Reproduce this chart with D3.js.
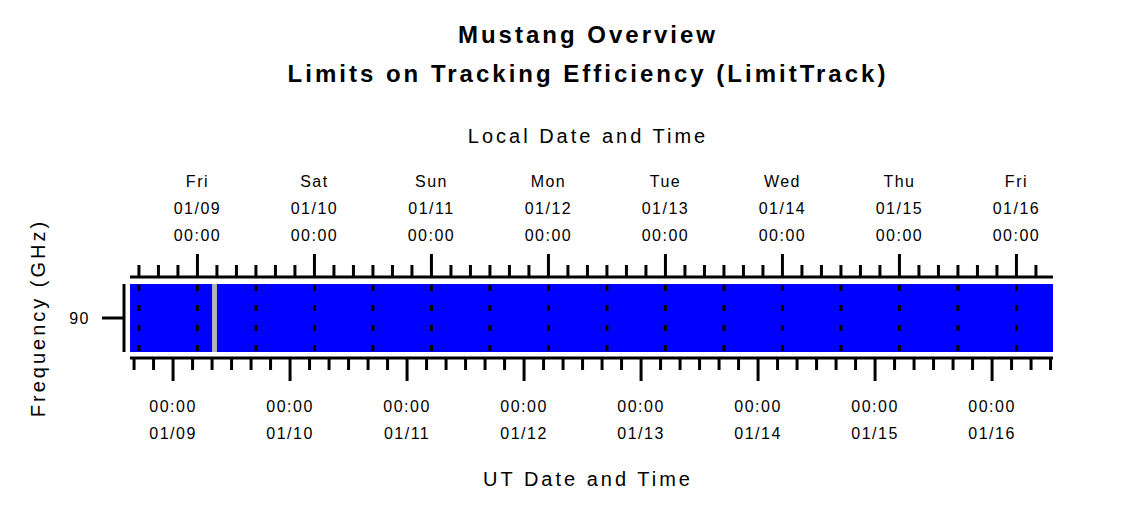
<!DOCTYPE html>
<html><head><meta charset="utf-8">
<script src="https://cdn.jsdelivr.net/npm/d3@7"></script>
<style>body{margin:0;background:#fff}text{font-family:"Liberation Sans",Arial,sans-serif;fill:#000}</style>
</head><body><div id="chart"></div>
<script>
const startUT = "2026-01-08T15:10:00Z"
const endUT = "2026-01-16T12:30:00Z"
const frequencies = [90]
const grayGaps = [["2026-01-09T08:00:00Z", "2026-01-09T09:00:00Z"]]
const localOffsetHours = -5
const weekdays = ["Fri","Sat","Sun","Mon","Tue","Wed","Thu","Fri"]

const width = 1125, height = 506
const svg = d3.select("#chart").append("svg").attr("width", width).attr("height", height)

const x = d3.scaleUtc().domain([new Date(startUT), new Date(endUT)]).range([130, 1053])
const y = d3.scaleBand().domain(frequencies).range([284, 352])
const H = 3600e3
const toLocal = d => new Date(d.getTime() + localOffsetHours*H)
const fromLocal = d => new Date(d.getTime() - localOffsetHours*H)

// title
svg.append("text").attr("x", 588).attr("y", 43).attr("text-anchor","middle")
    .attr("font-size", 24).attr("font-weight","bold").attr("letter-spacing", 3).text("Mustang Overview")
svg.append("text").attr("x", 588).attr("y", 82).attr("text-anchor","middle")
    .attr("font-size", 24).attr("font-weight","bold").attr("letter-spacing", 3).text("Limits on Tracking Efficiency (LimitTrack)")
svg.append("text").attr("x", 588).attr("y", 143).attr("text-anchor","middle")
    .attr("font-size", 20).attr("letter-spacing", 3).text("Local Date and Time")
svg.append("text").attr("x", 588).attr("y", 486).attr("text-anchor","middle")
    .attr("font-size", 20).attr("letter-spacing", 3).text("UT Date and Time")
svg.append("text").attr("transform","translate(45,318)rotate(-90)").attr("text-anchor","middle")
    .attr("font-size", 20).attr("letter-spacing", 3).text("Frequency (GHz)")

// data bars
svg.selectAll("rect.band").data(frequencies).join("rect")
    .attr("x", x.range()[0]).attr("width", x.range()[1]-x.range()[0])
    .attr("y", d => y(d)).attr("height", y.bandwidth()).attr("fill", "#0000ff")
svg.selectAll("rect.gap").data(grayGaps).join("rect")
    .attr("x", d => x(new Date(d[0]))).attr("width", d => x(new Date(d[1])) - x(new Date(d[0])))
    .attr("y", y.range()[0]).attr("height", y.bandwidth()).attr("fill", "#b4b4b4")

// local 12h grid
const [lo, hi] = x.domain().map(toLocal)
const grid = d3.utcHour.every(12).range(lo, hi).map(fromLocal)
svg.selectAll("line.grid").data(grid).join("line")
    .attr("x1", d => x(d)).attr("x2", d => x(d)).attr("y1", 285).attr("y2", 352)
    .attr("stroke","#000").attr("stroke-width",3).attr("stroke-dasharray","6,14")

// top local axis
const localTicks = d3.utcHour.every(4).range(lo, hi)
svg.append("line").attr("x1",130).attr("x2",1053).attr("y1",277).attr("y2",277).attr("stroke","#000").attr("stroke-width",3)
svg.selectAll("line.tt").data(localTicks).join("line")
    .attr("x1", d => x(fromLocal(d))).attr("x2", d => x(fromLocal(d)))
    .attr("y1", 277).attr("y2", d => d.getUTCHours()===0 ? 254 : 265)
    .attr("stroke","#000").attr("stroke-width",3)
const localDays = localTicks.filter(d => d.getUTCHours()===0)
const fmtMD = d3.utcFormat("%m/%d")
localDays.forEach((d,i) => {
    const g = svg.append("g").attr("transform", `translate(${x(fromLocal(d))},0)`)
    g.append("text").attr("y",187).attr("text-anchor","middle").attr("font-size",16).attr("letter-spacing",1.5).text(weekdays[i])
    g.append("text").attr("y",214).attr("text-anchor","middle").attr("font-size",16).attr("letter-spacing",1.5).text(fmtMD(d))
    g.append("text").attr("y",241).attr("text-anchor","middle").attr("font-size",16).attr("letter-spacing",1.5).text("00:00")
})

// bottom UT axis
const utTicks = d3.utcHour.every(4).range(...x.domain())
svg.append("line").attr("x1",130).attr("x2",1053).attr("y1",358).attr("y2",358).attr("stroke","#000").attr("stroke-width",3)
svg.selectAll("line.bt").data(utTicks).join("line")
    .attr("x1", d => x(d)).attr("x2", d => x(d))
    .attr("y1", 358).attr("y2", d => d.getUTCHours()===0 ? 381 : 370)
    .attr("stroke","#000").attr("stroke-width",3)
utTicks.filter(d => d.getUTCHours()===0).forEach(d => {
    const g = svg.append("g").attr("transform", `translate(${x(d)},0)`)
    g.append("text").attr("y",412).attr("text-anchor","middle").attr("font-size",16).attr("letter-spacing",1.5).text("00:00")
    g.append("text").attr("y",439).attr("text-anchor","middle").attr("font-size",16).attr("letter-spacing",1.5).text(fmtMD(d))
})

// left axis
svg.append("line").attr("x1",124).attr("x2",124).attr("y1",284).attr("y2",352).attr("stroke","#000").attr("stroke-width",3)
frequencies.forEach(f => {
    const cy = y(f) + y.bandwidth()/2
    svg.append("line").attr("x1",102).attr("x2",124).attr("y1",cy).attr("y2",cy).attr("stroke","#000").attr("stroke-width",3)
    svg.append("text").attr("x",90).attr("y",cy+6).attr("text-anchor","end").attr("font-size",16).attr("letter-spacing",1.5).text(f)
})
</script></body></html>
